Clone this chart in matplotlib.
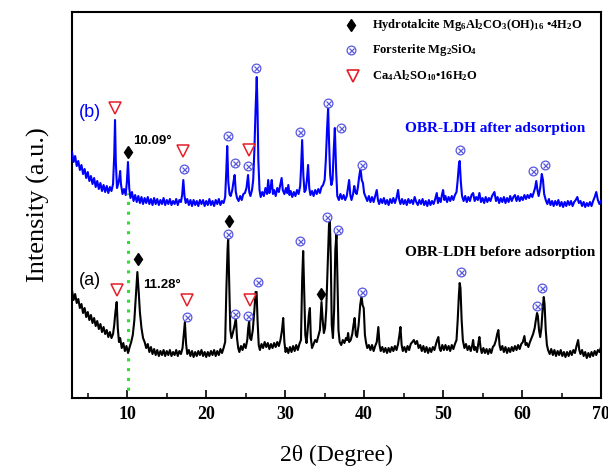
import matplotlib
matplotlib.use("Agg")
import matplotlib.pyplot as plt
from matplotlib.ticker import MultipleLocator
import numpy as np

# ---- XRD traces (2theta in degrees, intensity in a.u., curves already offset) ----
trace_after = [
    (3.0, 248), (3.2, 238), (3.4, 244), (3.6, 234), (3.8, 239), (4.0, 230), (4.2, 235), (4.4, 226),
    (4.6, 231), (4.8, 222), (5.0, 228), (5.2, 219), (5.4, 224), (5.6, 216), (5.8, 222), (6.0, 213),
    (6.2, 219), (6.4, 211), (6.6, 217), (6.8, 209), (7.0, 215), (7.2, 208), (7.4, 214), (7.6, 207),
    (7.8, 213), (8.0, 209), (8.2, 216), (8.35, 245), (8.45, 280), (8.55, 238), (8.7, 212), (8.85, 216),
    (9.0, 222), (9.1, 229), (9.2, 216), (9.4, 206), (9.6, 211), (9.8, 205), (9.95, 218), (10.09, 238),
    (10.25, 212), (10.4, 202), (10.6, 208), (10.8, 199), (11.0, 205), (11.2, 198), (11.4, 204), (11.6, 197),
    (11.8, 203), (12.0, 196), (12.2, 202), (12.4, 197), (12.6, 203), (12.8, 196), (13.0, 201), (13.2, 195),
    (13.4, 202), (13.6, 196), (13.8, 201), (14.0, 195), (14.2, 200), (14.4, 196), (14.6, 202), (14.8, 195),
    (15.0, 200), (15.2, 196), (15.4, 201), (15.6, 195), (15.8, 199), (16.0, 196), (16.2, 201), (16.4, 195),
    (16.6, 200), (16.8, 198), (16.95, 205), (17.1, 220), (17.25, 204), (17.4, 197), (17.6, 201), (17.8, 195),
    (18.0, 200), (18.2, 194), (18.4, 200), (18.6, 195), (18.8, 199), (19.0, 194), (19.2, 200), (19.4, 196),
    (19.6, 200), (19.8, 194), (20.0, 199), (20.2, 195), (20.4, 201), (20.6, 195), (20.8, 199), (21.0, 194),
    (21.2, 200), (21.4, 196), (21.6, 201), (21.8, 195), (22.0, 199), (22.2, 197), (22.4, 203), (22.55, 230),
    (22.66, 254), (22.8, 218), (22.95, 206), (23.1, 204), (23.3, 210), (23.45, 218), (23.6, 225), (23.75, 208),
    (23.9, 202), (24.1, 199), (24.3, 204), (24.5, 200), (24.7, 206), (24.9, 207), (25.1, 212), (25.3, 225),
    (25.45, 208), (25.6, 204), (25.8, 210), (25.95, 220), (26.1, 250), (26.25, 290), (26.4, 323), (26.5, 290),
    (26.6, 240), (26.75, 210), (26.9, 203), (27.1, 208), (27.3, 204), (27.5, 212), (27.7, 206), (27.85, 220),
    (28.0, 207), (28.15, 212), (28.3, 220), (28.45, 206), (28.6, 210), (28.8, 204), (29.0, 212), (29.2, 208),
    (29.35, 214), (29.55, 222), (29.7, 210), (29.9, 206), (30.1, 212), (30.25, 207), (30.4, 215), (30.55, 205),
    (30.7, 209), (30.9, 203), (31.1, 208), (31.3, 204), (31.5, 210), (31.7, 206), (31.9, 214), (32.0, 230),
    (32.15, 260), (32.3, 225), (32.45, 208), (32.6, 210), (32.75, 220), (32.9, 235), (33.05, 212), (33.2, 205),
    (33.4, 209), (33.6, 204), (33.8, 210), (34.0, 206), (34.2, 211), (34.4, 207), (34.6, 213), (34.8, 215),
    (35.0, 220), (35.15, 240), (35.3, 270), (35.44, 292), (35.55, 260), (35.7, 225), (35.85, 215), (36.0, 220),
    (36.15, 250), (36.29, 272), (36.45, 230), (36.6, 204), (36.8, 200), (37.0, 206), (37.2, 201), (37.4, 205),
    (37.6, 200), (37.8, 204), (37.95, 212), (38.1, 220), (38.25, 205), (38.4, 200), (38.6, 206), (38.75, 214),
    (38.9, 208), (39.05, 206), (39.2, 212), (39.35, 222), (39.54, 232), (39.7, 220), (39.85, 217), (40.0, 207),
    (40.2, 203), (40.4, 199), (40.6, 204), (40.8, 198), (41.0, 203), (41.2, 198), (41.4, 204), (41.6, 210),
    (41.75, 200), (41.9, 196), (42.1, 201), (42.3, 197), (42.5, 202), (42.7, 196), (42.9, 200), (43.1, 195),
    (43.3, 201), (43.5, 197), (43.7, 202), (43.9, 197), (44.1, 202), (44.3, 210), (44.45, 200), (44.6, 196),
    (44.8, 201), (45.0, 196), (45.2, 200), (45.4, 195), (45.6, 201), (45.8, 197), (46.0, 200), (46.2, 196),
    (46.4, 203), (46.6, 198), (46.8, 195), (47.0, 200), (47.2, 196), (47.4, 201), (47.6, 195), (47.8, 199),
    (48.0, 194), (48.2, 200), (48.4, 195), (48.6, 199), (48.8, 196), (49.0, 201), (49.2, 207), (49.35, 197),
    (49.5, 202), (49.7, 198), (49.85, 205), (50.0, 210), (50.15, 200), (50.3, 204), (50.5, 198), (50.7, 203),
    (50.9, 199), (51.1, 204), (51.3, 200), (51.5, 205), (51.7, 208), (51.85, 220), (52.0, 235), (52.1, 239),
    (52.25, 218), (52.4, 204), (52.6, 199), (52.8, 204), (53.0, 198), (53.2, 203), (53.4, 199), (53.6, 205),
    (53.8, 207), (54.0, 199), (54.2, 203), (54.4, 200), (54.6, 207), (54.8, 198), (55.0, 202), (55.2, 197),
    (55.4, 203), (55.6, 198), (55.8, 202), (56.0, 199), (56.2, 204), (56.5, 208), (56.7, 199), (56.9, 203),
    (57.1, 197), (57.3, 202), (57.5, 198), (57.7, 203), (57.9, 197), (58.1, 202), (58.3, 198), (58.5, 204),
    (58.7, 199), (58.9, 203), (59.1, 205), (59.3, 199), (59.5, 204), (59.7, 199), (59.9, 203), (60.1, 200),
    (60.3, 205), (60.5, 201), (60.7, 205), (60.9, 202), (61.1, 206), (61.3, 203), (61.5, 208), (61.65, 212),
    (61.8, 219), (61.95, 210), (62.1, 204), (62.3, 212), (62.5, 226), (62.65, 220), (62.8, 206), (63.0, 200),
    (63.2, 196), (63.4, 201), (63.6, 195), (63.8, 199), (64.0, 194), (64.2, 199), (64.4, 195), (64.6, 200),
    (64.8, 194), (65.0, 198), (65.2, 193), (65.4, 198), (65.6, 194), (65.8, 199), (66.0, 195), (66.2, 199),
    (66.4, 194), (66.6, 198), (66.8, 200), (67.0, 203), (67.2, 197), (67.4, 199), (67.6, 194), (67.8, 198),
    (68.0, 193), (68.2, 197), (68.4, 194), (68.6, 198), (68.8, 194), (69.0, 199), (69.2, 203), (69.4, 208),
    (69.6, 200), (69.8, 196), (70.0, 199),
]

trace_before = [
    (3.0, 110), (3.2, 100), (3.4, 106), (3.6, 97), (3.8, 101), (4.0, 92), (4.2, 96), (4.4, 87),
    (4.6, 92), (4.8, 83), (5.0, 88), (5.2, 80), (5.4, 85), (5.6, 77), (5.8, 82), (6.0, 74),
    (6.2, 79), (6.4, 71), (6.6, 76), (6.8, 68), (7.0, 73), (7.2, 66), (7.4, 70), (7.6, 63),
    (7.8, 68), (8.0, 62), (8.2, 66), (8.35, 75), (8.5, 88), (8.66, 98), (8.8, 72), (8.95, 58),
    (9.1, 62), (9.3, 52), (9.5, 57), (9.7, 49), (9.9, 54), (10.1, 47), (10.3, 53), (10.5, 58),
    (10.7, 65), (10.9, 80), (11.1, 105), (11.28, 128), (11.45, 108), (11.6, 88), (11.8, 72), (12.0, 62),
    (12.2, 58), (12.4, 52), (12.6, 56), (12.8, 48), (13.0, 53), (13.2, 46), (13.4, 51), (13.6, 45),
    (13.8, 50), (14.0, 44), (14.2, 49), (14.4, 45), (14.6, 50), (14.8, 44), (15.0, 49), (15.2, 45),
    (15.4, 50), (15.6, 44), (15.8, 48), (16.0, 45), (16.2, 50), (16.4, 44), (16.6, 49), (16.8, 46),
    (17.0, 52), (17.15, 65), (17.3, 78), (17.45, 56), (17.6, 46), (17.8, 50), (18.0, 44), (18.2, 49),
    (18.4, 43), (18.6, 48), (18.8, 44), (19.0, 49), (19.2, 45), (19.4, 50), (19.6, 44), (19.8, 48),
    (20.0, 43), (20.2, 48), (20.4, 44), (20.6, 49), (20.8, 45), (21.0, 50), (21.2, 44), (21.4, 49),
    (21.6, 45), (21.8, 51), (22.0, 47), (22.2, 52), (22.4, 58), (22.55, 110), (22.7, 150), (22.78, 162),
    (22.9, 120), (23.05, 70), (23.2, 62), (23.4, 68), (23.6, 75), (23.76, 82), (23.9, 62), (24.05, 52),
    (24.2, 48), (24.4, 54), (24.6, 50), (24.8, 56), (25.0, 52), (25.2, 60), (25.32, 72), (25.44, 79),
    (25.55, 62), (25.7, 60), (25.9, 70), (26.1, 90), (26.25, 108), (26.38, 108), (26.5, 80), (26.65, 55),
    (26.8, 50), (27.0, 56), (27.2, 52), (27.4, 58), (27.6, 53), (27.8, 57), (28.0, 51), (28.2, 56),
    (28.4, 52), (28.6, 57), (28.8, 53), (29.0, 58), (29.2, 54), (29.4, 60), (29.6, 70), (29.75, 82),
    (29.9, 58), (30.05, 48), (30.2, 52), (30.4, 47), (30.6, 53), (30.8, 48), (31.0, 54), (31.2, 49),
    (31.4, 55), (31.6, 50), (31.8, 56), (32.0, 60), (32.15, 120), (32.28, 149), (32.4, 110), (32.55, 65),
    (32.7, 57), (32.85, 70), (33.0, 85), (33.13, 92), (33.25, 62), (33.4, 52), (33.6, 56), (33.8, 60),
    (34.0, 58), (34.2, 64), (34.4, 70), (34.6, 98), (34.75, 80), (34.9, 67), (35.05, 72), (35.2, 90),
    (35.4, 140), (35.55, 175), (35.66, 180), (35.78, 140), (35.9, 75), (36.05, 62), (36.2, 90), (36.35, 150),
    (36.5, 167), (36.6, 130), (36.75, 70), (36.9, 58), (37.1, 55), (37.3, 60), (37.5, 57), (37.7, 62),
    (37.85, 60), (37.97, 67), (38.1, 58), (38.3, 60), (38.5, 66), (38.65, 75), (38.8, 82), (38.95, 65),
    (39.1, 63), (39.3, 75), (39.5, 95), (39.67, 104), (39.8, 95), (39.95, 92), (40.1, 65), (40.25, 57),
    (40.4, 52), (40.6, 55), (40.8, 50), (41.0, 55), (41.2, 49), (41.4, 54), (41.6, 58), (41.8, 73),
    (41.95, 55), (42.1, 49), (42.3, 53), (42.5, 48), (42.7, 52), (42.9, 47), (43.1, 52), (43.3, 48),
    (43.5, 53), (43.7, 49), (43.9, 54), (44.1, 50), (44.3, 56), (44.45, 64), (44.6, 73), (44.75, 55),
    (44.9, 49), (45.1, 53), (45.3, 48), (45.5, 54), (45.7, 50), (45.9, 56), (46.1, 58), (46.3, 60),
    (46.5, 56), (46.7, 59), (46.9, 52), (47.1, 55), (47.3, 49), (47.5, 54), (47.7, 48), (47.9, 53),
    (48.1, 47), (48.3, 52), (48.5, 48), (48.7, 53), (48.9, 50), (49.1, 56), (49.25, 60), (49.4, 63),
    (49.55, 52), (49.7, 49), (49.9, 55), (50.1, 50), (50.3, 55), (50.5, 50), (50.7, 54), (50.9, 49),
    (51.1, 55), (51.3, 51), (51.5, 56), (51.7, 60), (51.85, 80), (52.0, 105), (52.1, 117), (52.2, 112),
    (52.35, 80), (52.5, 60), (52.7, 52), (52.9, 56), (53.1, 50), (53.3, 54), (53.5, 49), (53.7, 55),
    (53.8, 60), (53.95, 50), (54.1, 53), (54.3, 48), (54.45, 56), (54.6, 63), (54.75, 52), (54.9, 47),
    (55.1, 52), (55.3, 47), (55.5, 51), (55.7, 46), (55.9, 51), (56.1, 47), (56.3, 53), (56.5, 55),
    (56.7, 60), (56.85, 66), (57.0, 70), (57.15, 55), (57.3, 50), (57.5, 54), (57.7, 48), (57.9, 53),
    (58.1, 47), (58.3, 52), (58.5, 48), (58.7, 53), (58.9, 49), (59.1, 54), (59.3, 50), (59.5, 55),
    (59.7, 51), (59.9, 56), (60.1, 58), (60.3, 64), (60.45, 55), (60.6, 57), (60.8, 53), (61.0, 58),
    (61.2, 62), (61.4, 66), (61.6, 72), (61.75, 80), (61.9, 87), (62.0, 84), (62.15, 70), (62.3, 63),
    (62.45, 72), (62.6, 90), (62.75, 103), (62.85, 96), (63.0, 70), (63.15, 55), (63.3, 50), (63.5, 46),
    (63.7, 51), (63.9, 45), (64.1, 50), (64.3, 44), (64.5, 49), (64.7, 45), (64.9, 50), (65.1, 44),
    (65.3, 48), (65.5, 43), (65.7, 48), (65.9, 44), (66.1, 49), (66.3, 45), (66.5, 50), (66.7, 47),
    (66.9, 54), (67.1, 60), (67.25, 50), (67.4, 46), (67.6, 50), (67.8, 44), (68.0, 48), (68.2, 42),
    (68.4, 47), (68.6, 43), (68.8, 48), (69.0, 44), (69.2, 49), (69.4, 45), (69.6, 50), (69.8, 48),
    (70.0, 53),
]

# ---- phase identification markers (2theta, height) ----
after_hydrotalcite = [(10.15, 248)]
after_forsterite = [(17.18, 231), (22.71, 264), (23.63, 237), (25.32, 234), (26.3, 332), (31.86, 268),
                    (35.44, 297), (37.1, 272), (39.67, 235), (52.1, 250), (61.4, 229), (62.87, 235)]
after_sulfate = [(8.44, 292), (17.09, 249), (25.41, 250)]

before_hydrotalcite = [(11.39, 141), (22.91, 179), (34.6, 106)]
before_forsterite = [(17.52, 83), (22.78, 166), (23.63, 86), (25.32, 84), (26.58, 118), (31.86, 159),
                     (35.32, 183), (36.7, 170), (39.67, 108), (52.24, 128), (61.9, 94), (62.53, 112)]
before_sulfate = [(8.66, 110), (17.6, 100), (25.53, 100)]

basal_after = 10.09
basal_before = 11.28
x_ticks = [10, 20, 30, 40, 50, 60, 70]

SERIF = "Liberation Serif"
SANS = "Liberation Sans"
BLUE = "#0000ff"
PURPLE = "#5858e0"
RED = "#e41f2a"

plt.rcParams["font.family"] = SERIF
plt.rcParams["font.weight"] = "bold"
plt.rcParams["mathtext.fontset"] = "custom"
plt.rcParams["mathtext.rm"] = "Liberation Serif:bold"
plt.rcParams["mathtext.it"] = "Liberation Serif:bold"
plt.rcParams["mathtext.bf"] = "Liberation Serif:bold"

fig = plt.figure(figsize=(6.08, 4.68), dpi=100)
ax = fig.add_axes([0.1184, 0.1506, 0.8701, 0.8248])


def unzip(pairs):
    a = np.array(pairs, dtype=float)
    return a[:, 0], a[:, 1]


tt_b, ii_b = unzip(trace_after)
tt_a, ii_a = unzip(trace_before)
ax.plot(tt_b, ii_b, color=BLUE, lw=1.5, zorder=3)
ax.plot(tt_a, ii_a, color="black", lw=1.5, zorder=3)

# guide line from the shifted basal reflection down to the axis
ax.vlines(basal_after, 0, 207, colors="#2ee02e", linestyles=(0, (1, 2.2)), lw=2.2, zorder=2)


def forsterite(pts):
    x, y = unzip(pts)
    ax.plot(x, y, ls="none", marker="o", ms=6.3, mfc="white", mec=PURPLE, mew=0.9, zorder=4)
    ax.plot(x, y, ls="none", marker="x", ms=3.6, mec=PURPLE, mew=0.9, zorder=5)


def sulfate(pts):
    x, y = unzip(pts)
    ax.plot(x, y, ls="none", marker="v", ms=8, mfc="white", mec=RED, mew=1.1, zorder=4)


def hydrotalcite(pts):
    x, y = unzip(pts)
    ax.plot(x, y, ls="none", marker="d", ms=6, mfc="black", mec="black", zorder=4)


for grp in (after_forsterite, before_forsterite):
    forsterite(grp)
for grp in (after_sulfate, before_sulfate):
    sulfate(grp)
for grp in (after_hydrotalcite, before_hydrotalcite):
    hydrotalcite(grp)

# key in the upper right
key_x, txt_x = 0.527, 0.567
key_rows = [0.965, 0.901, 0.834]
ax.plot(key_x, key_rows[0], transform=ax.transAxes, marker="d", ms=6.5, color="black", clip_on=False)
ax.plot(key_x, key_rows[1], transform=ax.transAxes, marker="o", ms=6.3, mfc="white", mec=PURPLE, mew=0.9)
ax.plot(key_x, key_rows[1], transform=ax.transAxes, marker="x", ms=3.6, mec=PURPLE, mew=0.9)
ax.plot(key_x + 0.004, key_rows[2], transform=ax.transAxes, marker="v", ms=9, mfc="white", mec=RED, mew=1.2)
key_labels = [
    r"Hydrotalcite Mg$_6$Al$_2$CO$_3$(OH)$_{16}$ •4H$_2$O",
    r"Forsterite Mg$_2$SiO$_4$",
    r"Ca$_4$Al$_2$SO$_{10}$•16H$_2$O",
]
for yk, lab in zip(key_rows, key_labels):
    ax.text(txt_x, yk, lab, transform=ax.transAxes, fontsize=9, va="center", ha="left")

# sample labels
ax.text(5.28, 288, "(b)", color=BLUE, family=SANS, fontweight="normal", fontsize=13, ha="center", va="center")
ax.text(5.28, 120, "(a)", color="black", family=SANS, fontweight="normal", fontsize=13, ha="center", va="center")
ax.text(10.72, 259, f"{basal_after:.2f}°", family=SANS, fontsize=9.5, ha="left", va="center")
ax.text(12.0, 115, f"{basal_before:.2f}°", family=SANS, fontsize=9.5, ha="left", va="center")
ax.text(45.15, 272, "OBR-LDH after adsorption", color=BLUE, fontsize=11, ha="left", va="center")
ax.text(45.15, 148, "OBR-LDH before adsorption", color="black", fontsize=11, ha="left", va="center")

ax.set_xlim(3, 70)
ax.set_ylim(2.5, 388.5)
ax.set_xticks(x_ticks)
ax.xaxis.set_minor_locator(MultipleLocator(5))
ax.tick_params(axis="x", which="major", direction="in", length=6, width=1.2, labelsize=13, pad=6)
ax.tick_params(axis="x", which="minor", direction="in", length=3.5, width=1.1)
ax.tick_params(axis="y", left=False, labelleft=False)
for s in ax.spines.values():
    s.set_linewidth(1.5)

ax.set_xlabel("2θ (Degree)", fontsize=17, labelpad=16)
ax.set_ylabel("Intensity (a.u.)", fontsize=19, labelpad=16)

fig.savefig("out.png", dpi=100)
